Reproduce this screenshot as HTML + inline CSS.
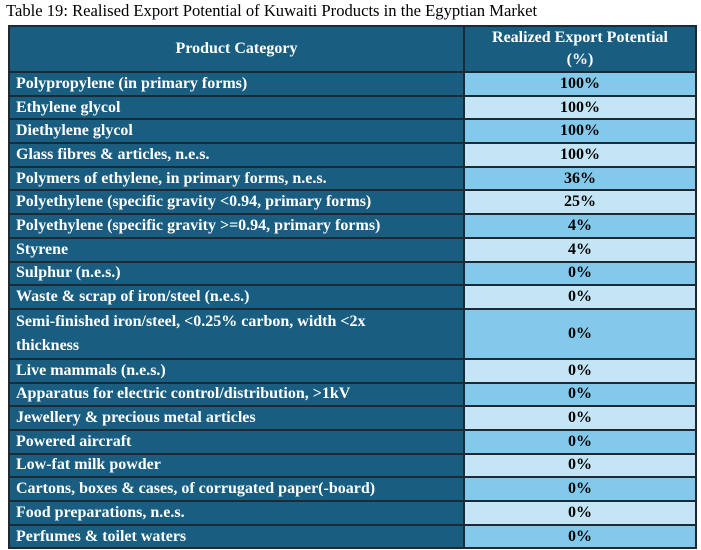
<!DOCTYPE html>
<html><head><style>
body{margin:0;background:#fff;width:701px;height:550px;overflow:hidden;font-family:"Liberation Serif",serif;}
.t{position:absolute;left:6px;top:1px;font-size:16.6px;color:#000;}
table{position:absolute;left:8px;top:25px;width:689px;border-collapse:collapse;font-weight:bold;font-size:16px;}
td,th{border:2px solid #1b2a33;padding:0 6px;height:21.7px;line-height:18px;}
th{background:#195e80;color:#fff;height:44px;font-size:16px;line-height:22px;}
td.a{background:#195e80;color:#fff;width:441px;}
tr:nth-child(even) td.b{background:#83c9eb;}
tr:nth-child(odd) td.b{background:#c3e5f5;}
td.b{text-align:center;color:#000;}
</style></head><body>
<div class="t">Table 19: Realised Export Potential of Kuwaiti Products in the Egyptian Market</div>
<table>
<tr><th>Product Category</th><th>Realized Export Potential<br>(%)</th></tr>
<tr><td class="a">Polypropylene (in primary forms)</td><td class="b">100%</td></tr>
<tr><td class="a">Ethylene glycol</td><td class="b">100%</td></tr>
<tr><td class="a">Diethylene glycol</td><td class="b">100%</td></tr>
<tr><td class="a">Glass fibres &amp; articles, n.e.s.</td><td class="b">100%</td></tr>
<tr><td class="a">Polymers of ethylene, in primary forms, n.e.s.</td><td class="b">36%</td></tr>
<tr><td class="a">Polyethylene (specific gravity &lt;0.94, primary forms)</td><td class="b">25%</td></tr>
<tr><td class="a">Polyethylene (specific gravity &gt;=0.94, primary forms)</td><td class="b">4%</td></tr>
<tr><td class="a">Styrene</td><td class="b">4%</td></tr>
<tr><td class="a">Sulphur (n.e.s.)</td><td class="b">0%</td></tr>
<tr><td class="a">Waste &amp; scrap of iron/steel (n.e.s.)</td><td class="b">0%</td></tr>
<tr><td class="a" style="height:46px;line-height:24px">Semi-finished iron/steel, &lt;0.25% carbon, width &lt;2x<br>thickness</td><td class="b">0%</td></tr>
<tr><td class="a">Live mammals (n.e.s.)</td><td class="b">0%</td></tr>
<tr><td class="a">Apparatus for electric control/distribution, &gt;1kV</td><td class="b">0%</td></tr>
<tr><td class="a">Jewellery &amp; precious metal articles</td><td class="b">0%</td></tr>
<tr><td class="a">Powered aircraft</td><td class="b">0%</td></tr>
<tr><td class="a">Low-fat milk powder</td><td class="b">0%</td></tr>
<tr><td class="a">Cartons, boxes &amp; cases, of corrugated paper(-board)</td><td class="b">0%</td></tr>
<tr><td class="a">Food preparations, n.e.s.</td><td class="b">0%</td></tr>
<tr><td class="a">Perfumes &amp; toilet waters</td><td class="b">0%</td></tr>
</table>
</body></html>
